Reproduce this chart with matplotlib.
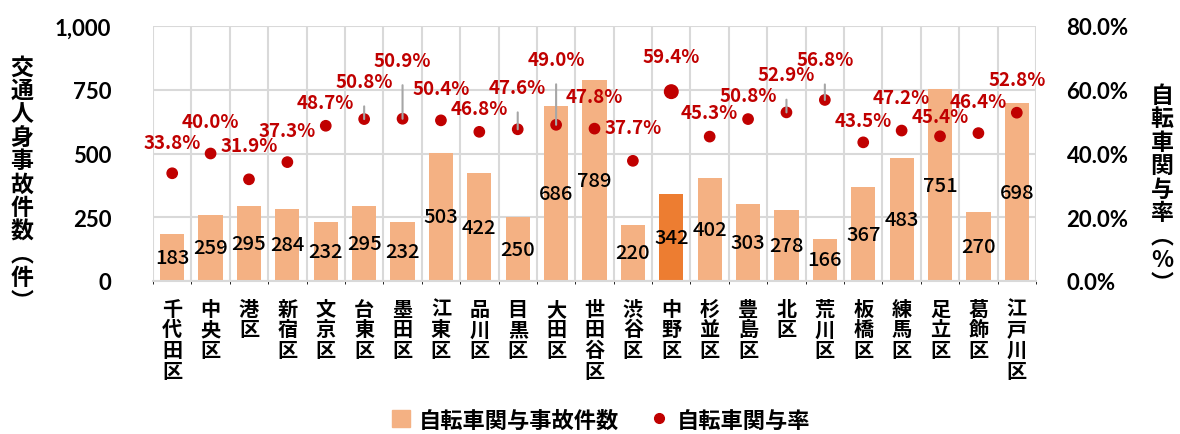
import numpy as np
import matplotlib
matplotlib.use("Agg")
import matplotlib.pyplot as plt
from matplotlib.patches import Patch
from matplotlib.lines import Line2D

plt.rcParams['font.family'] = ['Noto Sans CJK JP', 'DejaVu Sans']

wards = ["千代田区", "中央区", "港区", "新宿区", "文京区", "台東区", "墨田区", "江東区",
         "品川区", "目黒区", "大田区", "世田谷区", "渋谷区", "中野区", "杉並区", "豊島区",
         "北区", "荒川区", "板橋区", "練馬区", "足立区", "葛飾区", "江戸川区"]
accidents = [183, 259, 295, 284, 232, 295, 232, 503, 422, 250, 686, 789,
             220, 342, 402, 303, 278, 166, 367, 483, 751, 270, 698]
rates = [33.8, 40.0, 31.9, 37.3, 48.7, 50.8, 50.9, 50.4, 46.8, 47.6, 49.0, 47.8,
         37.7, 59.4, 45.3, 50.8, 52.9, 56.8, 43.5, 47.2, 45.4, 46.4, 52.8]
highlight = "中野区"

# label offsets above the dot (points), and which labels get leader lines
label_offset = [22, 23, 24, 23, 17, 27, 42, 23, 17, 30, 47, 23,
                24, 25, 17, 17, 27, 29, 16, 24, 14, 23, 24]
leader = {5, 6, 9, 10, 16, 17}

bar_c = "#F4B183"
bar_hi = "#ED7D31"
dot_c = "#C00000"
grid_c = "#D9D9D9"

fig = plt.figure(figsize=(11.8, 4.35), dpi=100)
ax = fig.add_axes([153 / 1180, 1 - 282 / 435, (1036 - 153) / 1180, (282 - 27) / 435])
ax2 = ax.twinx()

x = np.arange(len(wards))
colors = [bar_hi if w == highlight else bar_c for w in wards]
ax.bar(x, accidents, width=0.63, color=colors, zorder=2)
ax.set_xlim(-0.5, len(wards) - 0.5)
ax.set_ylim(0, 1000)
ax.set_yticks([0, 250, 500, 750, 1000])
ax.set_yticklabels(["0", "250", "500", "750", "1,000"], fontsize=16, fontweight='bold',
                   family='Lato')
ax.tick_params(axis='y', length=0, pad=30)
ax.tick_params(axis='x', length=0, pad=12)
ax.set_xticks(x)
ax.set_xticklabels(["\n".join(w) for w in wards], fontsize=14.5, fontweight='bold',
                   linespacing=0.98, va='top')
ax.set_xticks(np.arange(-0.5, len(wards)), minor=True)
ax.grid(axis='y', color=grid_c, lw=1.5, zorder=0)
ax.grid(axis='x', which='minor', color=grid_c, lw=1.5, zorder=0)
ax.grid(axis='x', which='major', visible=False)
for s in ['top', 'left', 'right']:
    ax.spines[s].set_visible(False)
ax.spines['bottom'].set_color(grid_c)
ax.spines['bottom'].set_linewidth(1.5)

for xi, v in zip(x, accidents):
    ax.text(xi, v / 2, str(v), ha='center', va='center', fontsize=14.5,
            fontweight='medium', color='black', zorder=4)

ax2.set_ylim(0, 80)
ax2.set_yticks([0, 20, 40, 60, 80])
ax2.set_yticklabels(["0.0%", "20.0%", "40.0%", "60.0%", "80.0%"], fontsize=16,
                    fontweight='bold', family='Lato')
ax2.tick_params(axis='y', length=0, pad=22)
for s in ax2.spines.values():
    s.set_visible(False)

sizes = [95 if w == highlight else 55 for w in wards]
ax2.scatter(x, rates, s=sizes, color=dot_c, zorder=5)
for i, (xi, r) in enumerate(zip(x, rates)):
    props = dict(arrowstyle='-', color='#A6A6A6', lw=1.5, shrinkA=9, shrinkB=0) if i in leader else None
    ax2.annotate(f"{r:.1f}%", xy=(xi, r), xytext=(0, label_offset[i]),
                 textcoords='offset points', ha='center', va='center',
                 fontsize=13.5, fontweight='bold', color=dot_c,
                 arrowprops=props, zorder=6)

fig.text(22 / 1180, 1 - 185 / 435, "\n".join("交通人身事故件数") + "\n︵\n件\n︶",
         ha='center', va='center', fontsize=16.5, fontweight='bold', linespacing=1.02)
fig.text(1162 / 1180, 1 - 190 / 435, "\n".join("自転車関与率") + "\n︵\n%\n︶",
         ha='center', va='center', fontsize=16.5, fontweight='bold', linespacing=1.02)

handles = [Patch(color=bar_c, label="自転車関与事故件数"),
           Line2D([], [], marker='o', color=dot_c, lw=0, markersize=7, label="自転車関与率")]
fig.legend(handles=handles, loc='center', bbox_to_anchor=(601 / 1180, 1 - 421 / 435),
           ncol=2, frameon=False, prop=dict(size=16, weight='bold'),
           handlelength=0.8, handleheight=0.8, handletextpad=0.4, columnspacing=1.4)

fig.savefig("out.png", dpi=100)
